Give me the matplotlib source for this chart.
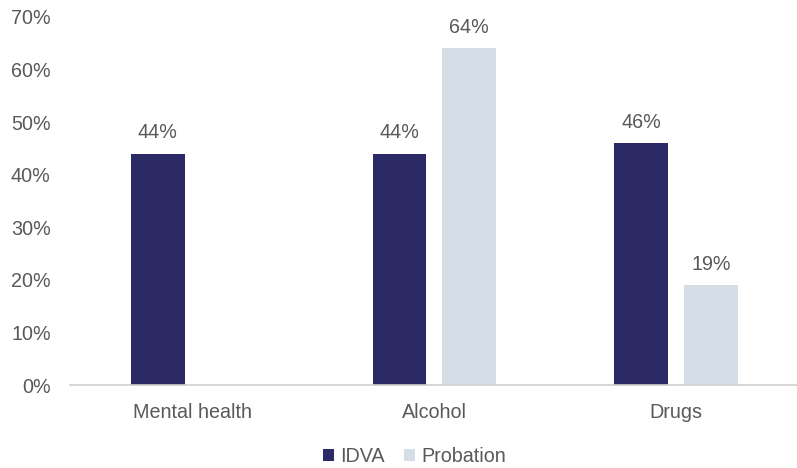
import numpy as np
import matplotlib.pyplot as plt
from matplotlib.ticker import PercentFormatter

plt.rcParams['font.family'] = ['Liberation Sans', 'DejaVu Sans']

categories = ['Mental health', 'Alcohol', 'Drugs']
idva = [44, 44, 46]
probation = [None, 64, 19]
yticks = [0, 10, 20, 30, 40, 50, 60, 70]

idva_color = '#2b2a66'
prob_color = '#d5dde6'
text_color = '#595959'
fs = 14.2

fig = plt.figure(figsize=(7.97, 4.68), dpi=100)
ax = fig.add_axes([0.088, 0.177, 0.912, 0.787])

x = np.arange(len(categories))
w = 0.222
off = 0.144

b1 = ax.bar(x - off, idva, w, color=idva_color, label='IDVA')
for xi, v in zip(x, idva):
    ax.text(xi - off, v + 2.2, f'{v}%', ha='center', va='bottom', fontsize=fs, color=text_color)

# no probation bar for mental health
px = [xi + off for xi, v in zip(x, probation) if v is not None]
pv = [v for v in probation if v is not None]
b2 = ax.bar(px, pv, w, color=prob_color, label='Probation')
for xi, v in zip(px, pv):
    ax.text(xi, v + 2.2, f'{v}%', ha='center', va='bottom', fontsize=fs, color=text_color)

ax.set_xlim(-0.506, 2.5)
ax.set_ylim(0, 70)
ax.set_yticks(yticks)
ax.yaxis.set_major_formatter(PercentFormatter(decimals=0))
ax.set_xticks(x)
ax.set_xticklabels(categories)
ax.tick_params(axis='both', length=0, labelsize=fs, labelcolor=text_color)
ax.tick_params(axis='x', pad=13)
ax.tick_params(axis='y', pad=14)

for s in ['top', 'right', 'left']:
    ax.spines[s].set_visible(False)
ax.spines['bottom'].set_color('#d0d0d0')
ax.spines['bottom'].set_linewidth(1.2)

fig.legend(handles=[b1, b2], loc='center', bbox_to_anchor=(0.52, 0.025), ncol=2,
           frameon=False, fontsize=fs, handlelength=0.55, handleheight=0.55,
           handletextpad=0.3, columnspacing=1.0, labelcolor=text_color)

plt.savefig('out.png', dpi=100)
